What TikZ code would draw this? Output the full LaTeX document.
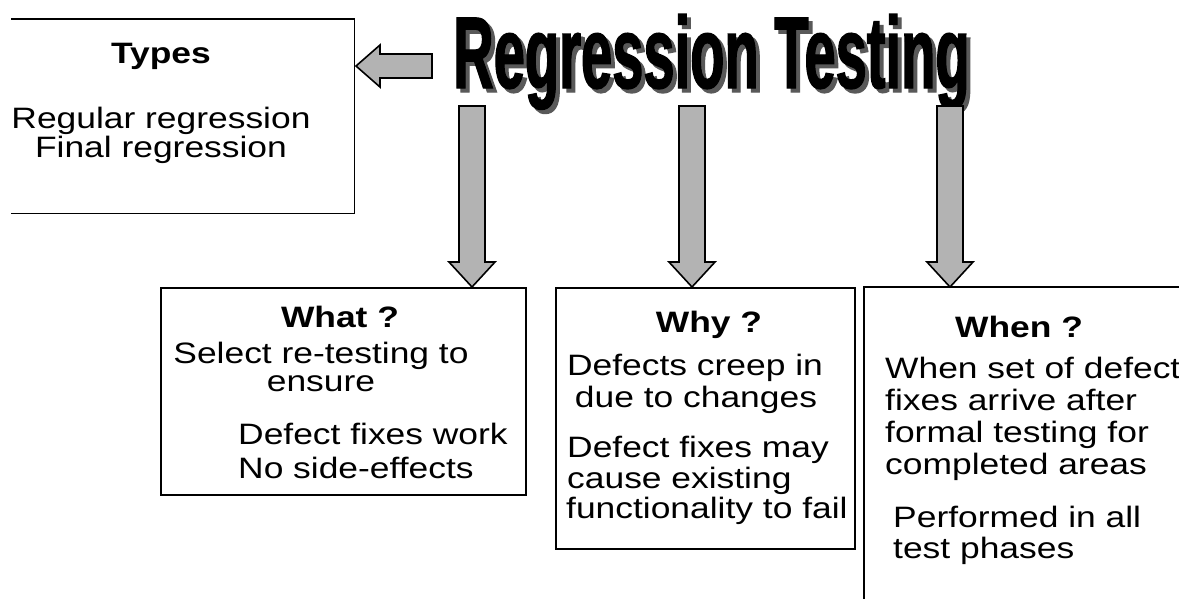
\documentclass[tikz,border=0pt]{standalone}
\usepackage{fontspec}
\setmainfont{Liberation Sans}[FakeStretch=1.2]
\newfontfamily\titlefont{Liberation Sans}[FakeStretch=0.55,FakeBold=1.2]
\usetikzlibrary{calc}
\definecolor{arrowgray}{RGB}{179,179,179}
\tikzset{
  frame/.style={draw=black, line width=1.6pt},
  blockarrow/.style={draw=black, line width=1.6pt, fill=arrowgray, line join=miter},
  txt/.style={inner sep=0pt, anchor=base west, font=\fontsize{29.5}{31}\selectfont},
  ctxt/.style={txt, anchor=base},
  headtxt/.style={inner sep=0pt, anchor=base, font=\fontsize{29.5}{31}\selectfont\bfseries},
  titletxt/.style={inner sep=0pt, anchor=base west, font=\titlefont\bfseries\fontsize{102}{102}\selectfont},
  emptybox/.style={inner sep=0pt, anchor=north west}
}
\newcommand\blockdown[1]{\path[blockarrow] (#1) -- ++(23,-25) -- ++(-10,0) -- ++(0,-156) -- ++(-26,0) -- ++(0,156) -- ++(-10,0) -- cycle;}
\newcommand\shadowed[1]{\rlap{\hspace{4pt}\raisebox{-4pt}{\textcolor{black!65}{#1}}}#1}
\begin{document}
\begin{tikzpicture}[x=1pt,y=-1pt]
\useasboundingbox (0,0) rectangle (1179,598);
\fill[white] (0,0) rectangle (1179,598);

% title with shadow
\node[titletxt, text=black] (title) at (453,88) {\shadowed{Regression Testing}};

% Types box (left side open)
\node[emptybox, minimum width=343pt, minimum height=194pt] (types) at (11,19) {};
\draw[frame] (types.north west) -- (types.north east) -- (types.south east) -- (types.south west);
\node[headtxt] (typeshead) at (161,63) {Types};
\node[ctxt] (types1) at (161,128) {Regular regression};
\node[ctxt] (types2) at (161,157) {Final regression};

% left block arrow
\coordinate (ltip) at (356,66);
\path[blockarrow] (ltip) -- ++(24,-21) -- ++(0,9) -- ++(52,0) -- ++(0,24) -- ++(-52,0) -- ++(0,9) -- cycle;

% boxes
\node[frame, emptybox, minimum width=365pt, minimum height=207pt] (what) at (160,287) {};
\node[frame, emptybox, minimum width=299pt, minimum height=261pt] (why) at (555,287) {};
\coordinate (when) at (864,287);
\draw[frame] (864,605) -- (when) -- (1185,287);

% down block arrows
\coordinate (tipA) at (472,287);
\coordinate (tipB) at (692,287);
\coordinate (tipC) at (950,287);
\blockdown{tipA}
\blockdown{tipB}
\blockdown{tipC}

% What
\node[headtxt] (whathead) at (340,327) {What ?};
\node[ctxt] (what1) at (321,363) {Select re-testing to};
\node[ctxt] (what2) at (321,391) {ensure};
\node[txt] (what3) at (238,444) {Defect fixes work};
\node[txt] (what4) at (238,478) {No side-effects};

% Why
\node[headtxt] (whyhead) at (709,332) {Why ?};
\node[ctxt] (why1) at (695,375) {Defects creep in};
\node[ctxt] (why2) at (696,407) {due to changes};
\node[txt] (why3) at (567,457) {Defect fixes may};
\node[txt] (why4) at (567,488) {cause existing};
\node[txt] (why5) at (566,518) {functionality to fail};

% When
\node[headtxt] (whenhead) at (1019,337) {When ?};
\node[txt] (when1) at (885,378) {When set of defect};
\node[txt] (when2) at (885,410) {fixes arrive after};
\node[txt] (when3) at (885,442) {formal testing for};
\node[txt] (when4) at (885,474) {completed areas};
\node[txt] (when5) at (893,527) {Performed in all};
\node[txt] (when6) at (893,558) {test phases};
\end{tikzpicture}
\end{document}
